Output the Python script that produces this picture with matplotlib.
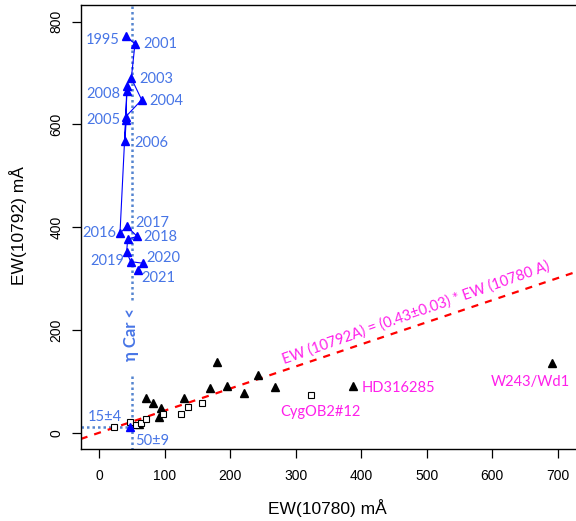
import matplotlib
matplotlib.use('Agg')
import matplotlib.pyplot as plt
import numpy as np

# eta Car observations, 1995 -> 2021
eta_x = [40.3, 54.5, 48.9, 64.7, 40.3, 41.0, 39.2, 41.8, 42.7, 31.6, 41.8, 58.0, 43.3, 41.8, 47.9, 66.3, 59.5]
eta_y = [772, 757, 690, 648, 615, 609, 567, 665, 675, 388, 402, 382, 377, 352, 333, 330, 317]

year_labels = ['1995', '2001', '2003', '2004', '2008', '2005', '2006',
               '2017', '2016', '2018', '2020', '2019', '2021']
year_x = [30.3, 67.3, 61.0, 76.3, 32.7, 31.6, 53.0, 54.5, 25.5, 67.2, 71.3, 38.2, 63.7]
year_y = [765, 756, 688, 646, 659, 608, 564, 409, 389, 381, 341, 335, 301]
year_ha = ['right', 'left', 'left', 'left', 'right', 'right', 'left',
           'left', 'right', 'left', 'left', 'right', 'left']

# comparison stars
tri_x = [71.3, 82.4, 93.7, 91.6, 129.3, 169.0, 180.2, 195.4, 220.9, 242.7, 268.2, 387.8, 690.7, 60.0]
tri_y = [67, 58.4, 47.5, 30, 67, 87.6, 137, 91, 76.7, 112.3, 88.4, 91.5, 135, 16]
sq_x = [23, 46.9, 56, 63.2, 71.3, 96.8, 124.3, 135.9, 156.3, 323.2]
sq_y = [11.7, 21.4, 15, 18.3, 26, 36.4, 36.4, 50.6, 58.4, 73.4]

star_names = ['HD316285', 'CygOB2#12', 'W243/Wd1']
name_x = [401, 276, 598]
name_y = [87, 41, 98]

slope = 0.43
eta_ref_x, eta_ref_y = 50, 11

fig = plt.figure(figsize=(5.76, 5.21), dpi=100)
ax = fig.add_axes([80.7 / 576, 1 - 449.3 / 521, 1 - 80.7 / 576, (449.3 - 5) / 521])
ax.set_xlim(-28.4, 728)
ax.set_ylim(-32.3, 832.6)

lab_blue = '#4775E6'
dot_blue = '#5585D0'
pink = '#FF1FEA'

# fit line
xx = np.array([-28.4, 728])
ax.plot(xx, slope * xx, color='#FF0000', ls=(0, (3.2, 3.2)), lw=1.6, zorder=2)

# eta Car reference lines
ax.plot([eta_ref_x, eta_ref_x], [258, 840], color=dot_blue, ls=(0, (1, 1.2)), lw=1.8, zorder=1)
ax.plot([eta_ref_x, eta_ref_x], [-33, 112], color=dot_blue, ls=(0, (1, 1.2)), lw=1.8, zorder=1)
ax.plot([-28.4, eta_ref_x], [eta_ref_y, eta_ref_y], color=dot_blue, ls=(0, (1, 1.2)), lw=1.8, zorder=1)

ax.plot(eta_x, eta_y, color='#0000FF', lw=0.8, marker='^', ms=5.8, zorder=4)
ax.plot([47], [11], color='#0000FF', marker='^', ms=5.8, ls='none', zorder=4)

ax.plot(tri_x, tri_y, 'k^', ms=5.6, zorder=3)
ax.plot(sq_x, sq_y, 's', ms=4.8, mfc='white', mec='black', mew=0.8, zorder=3)

for t, x, y, ha in zip(year_labels, year_x, year_y, year_ha):
    ax.text(x, y, t, color=lab_blue, fontsize=10.5, family='Lato', ha=ha, va='center')

ax.text(8, 30, '15±4', color=lab_blue, fontsize=10.5, family='Lato', ha='center', va='center')
ax.text(54, -16, '50±9', color=lab_blue, fontsize=10.5, family='Lato', ha='left', va='center')
ax.text(48, 191, 'η Car <', color=lab_blue, fontsize=12, family='Lato', fontweight='bold',
        rotation=90, ha='center', va='center')

for t, x, y in zip(star_names, name_x, name_y):
    ax.text(x, y, t, color=pink, fontsize=10.5, family='Lato', ha='left', va='center')

ax.text(483, 234, 'EW (10792A) = (0.43±0.03) * EW (10780 A)', color=pink, fontsize=10.5,
        family='Lato', rotation=19.5, rotation_mode='anchor', ha='center', va='center')

ax.spines['right'].set_visible(False)
for s in ['left', 'bottom', 'top']:
    ax.spines[s].set_linewidth(1.0)

ax.set_xticks([0, 100, 200, 300, 400, 500, 600, 700])
ax.set_yticks([0, 200, 400, 600, 800])
ax.tick_params(length=6.5, width=0.9, labelsize=10, pad=8)
ax.tick_params(axis='y', pad=6)
for lab in ax.get_yticklabels():
    lab.set_rotation(90)
    lab.set_va('center')
for lab in ax.get_xticklabels() + ax.get_yticklabels():
    lab.set_family('Liberation Sans')

fig.text(327 / 576, 1 - 508 / 521, 'EW(10780) mÅ', ha='center', va='center',
         fontsize=12.5, family='Liberation Sans')
fig.text(18.5 / 576, 1 - 226 / 521, 'EW(10792) mÅ', ha='center', va='center',
         fontsize=12.5, family='Liberation Sans', rotation=90)

fig.savefig('out.png', dpi=100)
